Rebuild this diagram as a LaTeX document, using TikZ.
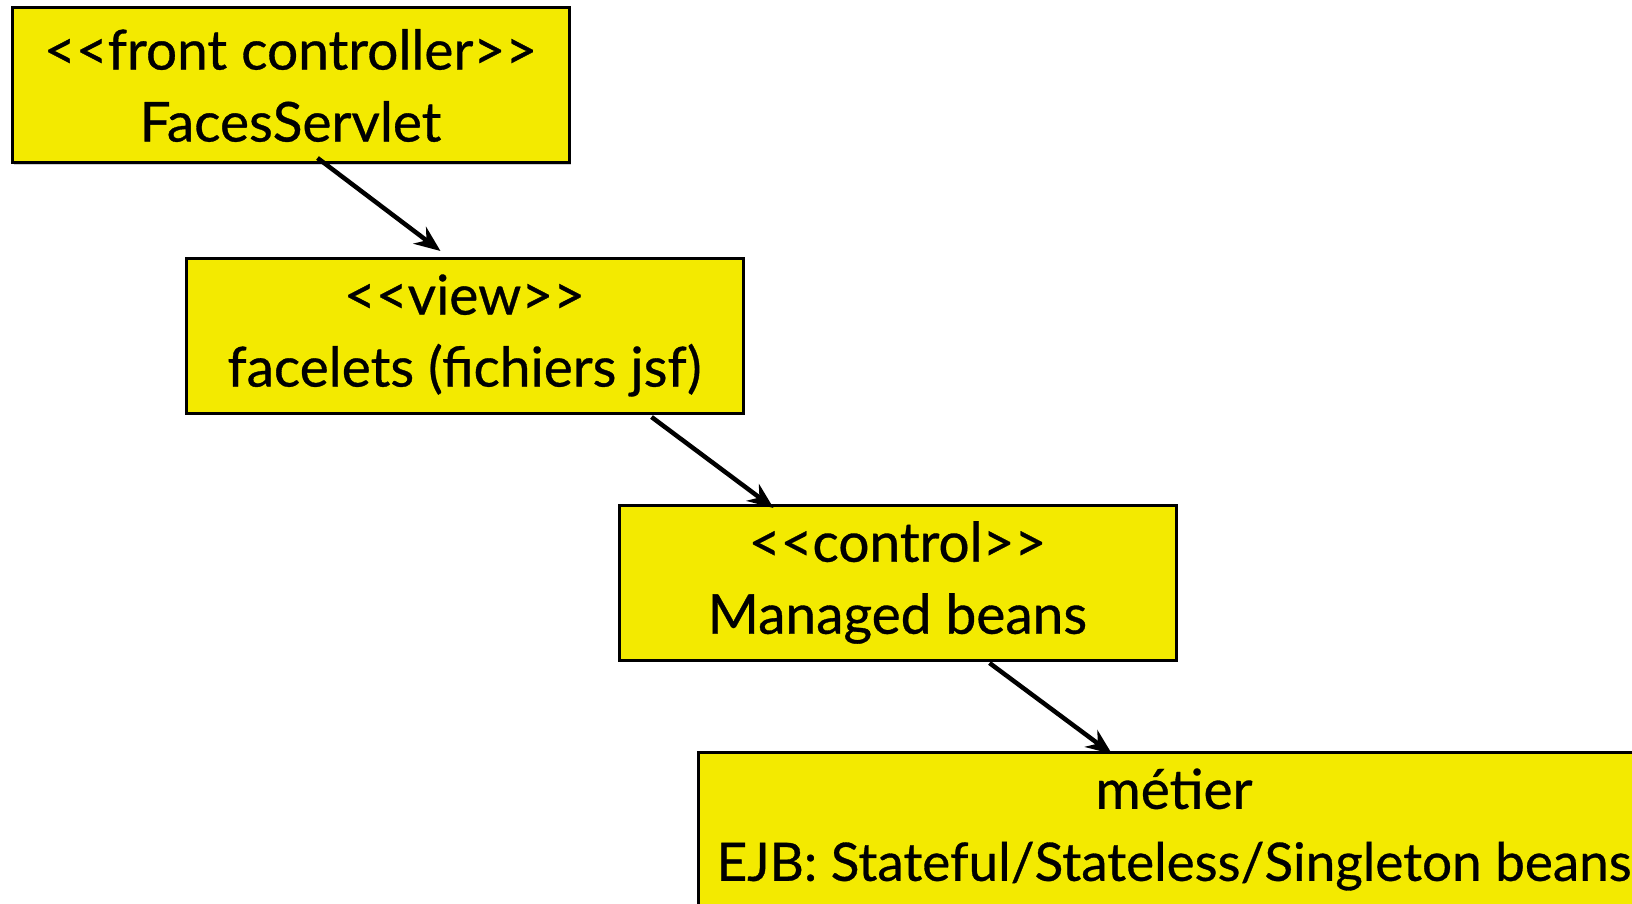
\documentclass[tikz,border=0pt]{standalone}
\usepackage{fontspec}
\setmainfont{Lato}
\newfontfamily\layerfont{Lato}[FakeBold=0.6]
\usetikzlibrary{arrows.meta,positioning,shadows}
\definecolor{layeryellow}{RGB}{243,234,0}

\begin{document}
\begin{tikzpicture}[node distance=1cm, auto,
  layer/.style={draw=black, line width=3pt, fill=layeryellow, outer sep=0pt,
    minimum width=557pt, minimum height=155pt, inner sep=0pt, align=center,
    font=\layerfont\fontsize{55pt}{72pt}\selectfont,
    drop shadow={shadow xshift=1.5pt, shadow yshift=-2pt, opacity=0.3, fill=black!60}},
  flow/.style={line width=4.5pt, -{Stealth[length=26pt,width=21pt]}}]

\useasboundingbox (0,0) rectangle (1632pt,-904pt);

%layers, top to bottom
\node[layer, anchor=north west] (fc) at (12pt,-8pt) {<{}<front controller>{}>\\FacesServlet};
\node[layer, below right=95pt and 174pt of fc.south west] (view) {<{}<view>{}>\\facelets (fichiers jsf)};
\node[layer, below right=92pt and 433pt of view.south west] (ctl) {<{}<control>{}>\\Managed beans};
\node[layer, minimum width=952pt, below right=92pt and 79pt of ctl.south west] (met)
  {métier\\{\fontsize{53pt}{72pt}\selectfont EJB: Stateful/Stateless/Singleton beans}};

%requests
\draw[flow] ([xshift=27pt,yshift=5pt]fc.south) -- ([xshift=-24pt,yshift=7pt]view.north);
\draw[flow] ([xshift=187pt,yshift=-4pt]view.south) -- ([xshift=-124pt,yshift=-3pt]ctl.north);
\draw[flow] ([xshift=92pt,yshift=-3pt]ctl.south) -- ([xshift=-62pt,yshift=-2pt]met.north);

\end{tikzpicture}
\end{document}
